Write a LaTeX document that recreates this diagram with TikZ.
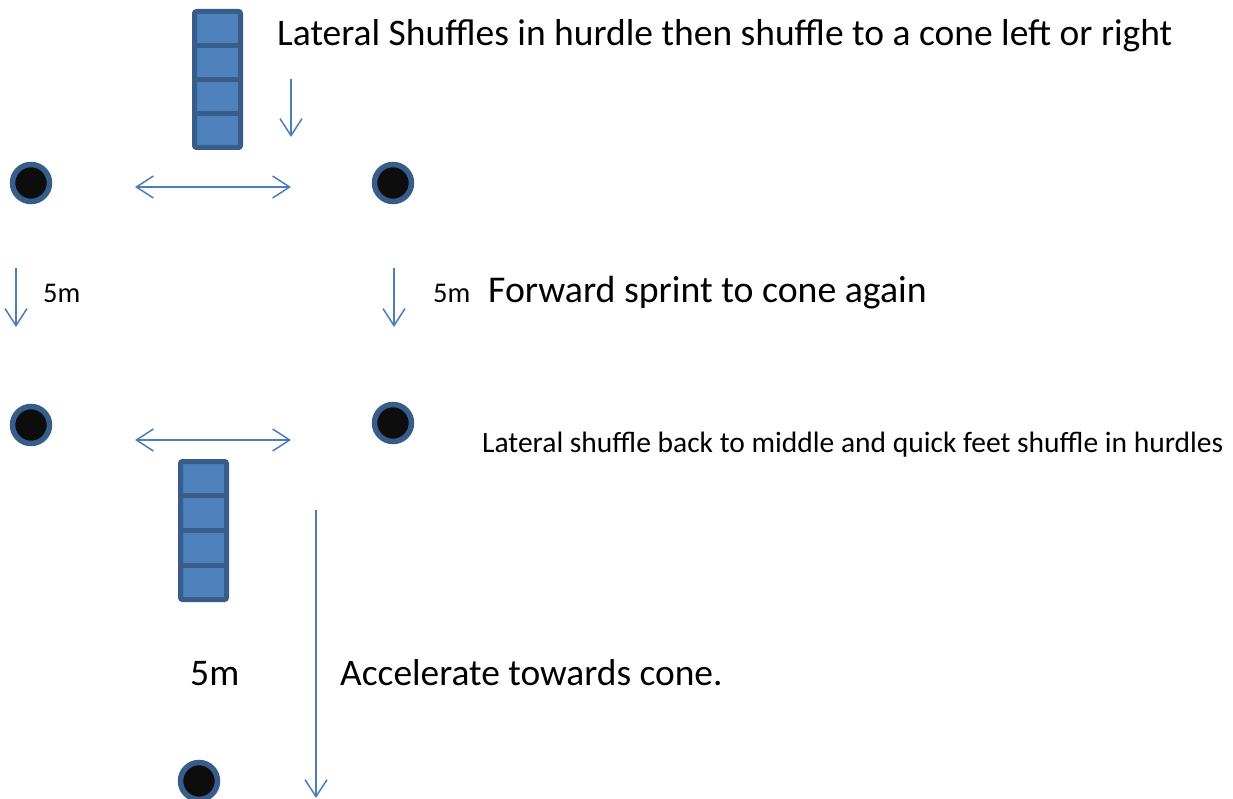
\documentclass[tikz,border=0pt]{standalone}
\usepackage{fontspec}
\setmainfont{Carlito}
\usetikzlibrary{arrows.meta}
\definecolor{arrowblue}{HTML}{4A7EBB}
\definecolor{hfill}{HTML}{4F81BD}
\definecolor{hedge}{HTML}{385D8A}
\definecolor{conefill}{HTML}{0D0D0D}
\tikzset{
  arr/.style={draw=arrowblue, line width=1.5pt, -{Straight Barb[length=17pt,width=22pt,line width=1.5pt]}},
  darr/.style={draw=arrowblue, line width=1.5pt, {Straight Barb[length=17pt,width=22pt,line width=1.5pt]}-{Straight Barb[length=17pt,width=22pt,line width=1.5pt]}},
  cone/.style={circle, draw=hedge, fill=conefill, line width=5.5pt, minimum size=37pt, inner sep=0pt},
  hurdle/.style={draw=hedge, fill=hfill, line width=5pt, rounded corners=2pt},
  hline/.style={draw=hedge, line width=5pt},
  lbl/.style={anchor=base west, inner sep=0pt, text=black}
}
\begin{document}
\begin{tikzpicture}[x=1pt,y=-1pt]
\useasboundingbox (0,0) rectangle (1233,799);
% top hurdle
\draw[hurdle] (194.5,11.5) rectangle (240.5,147.5);
\foreach \yy in {45.5,80,114} \draw[hline] (194.5,\yy) -- (240.5,\yy);
% bottom hurdle
\draw[hurdle] (180.5,461.5) rectangle (226.5,599.5);
\foreach \yy in {495.5,530,565.5} \draw[hline] (180.5,\yy) -- (226.5,\yy);
% cones
\node[cone] (c1) at (31,183) {};
\node[cone] (c2) at (393,183) {};
\node[cone] (c3) at (31,425) {};
\node[cone] (c4) at (393,423) {};
\node[cone] (c5) at (199,781) {};
% arrow endpoints
\coordinate (a1s) at (291,79);  \coordinate (a1e) at (291,137);
\coordinate (d1s) at (135,187); \coordinate (d1e) at (291,187);
\coordinate (l1s) at (16,268);  \coordinate (l1e) at (16,327);
\coordinate (r1s) at (394,268); \coordinate (r1e) at (394,327);
\coordinate (d2s) at (135,440); \coordinate (d2e) at (291,440);
\coordinate (f1s) at (316,510); \coordinate (f1e) at (316,798);
\draw[arr] (a1s) -- (a1e);
\draw[darr] (d1s) -- (d1e);
\draw[arr] (l1s) -- (l1e);
\draw[arr] (r1s) -- (r1e);
\draw[darr] (d2s) -- (d2e);
\draw[arr] (f1s) -- (f1e);
% labels
\node[lbl, font=\fontsize{37.5}{40}\selectfont] (t1) at (277,46) {Lateral Shuffles in hurdle then shuffle to a cone left or right};
\node[lbl, font=\fontsize{28.5}{31}\selectfont] (t2) at (43,303) {5m};
\node[lbl, font=\fontsize{28.5}{31}\selectfont] (t3) at (433,303) {5m};
\node[lbl, font=\fontsize{37.8}{40}\selectfont] (t4) at (488,303) {Forward sprint to cone again};
\node[lbl, font=\fontsize{29.5}{32}\selectfont] (t5) at (482,452) {Lateral shuffle back to middle and quick feet shuffle in hurdles};
\node[lbl, font=\fontsize{37.6}{40}\selectfont] (t6) at (190,685) {5m};
\node[lbl, font=\fontsize{37.4}{40}\selectfont] (t7) at (340,685) {Accelerate towards cone.};
\end{tikzpicture}
\end{document}
